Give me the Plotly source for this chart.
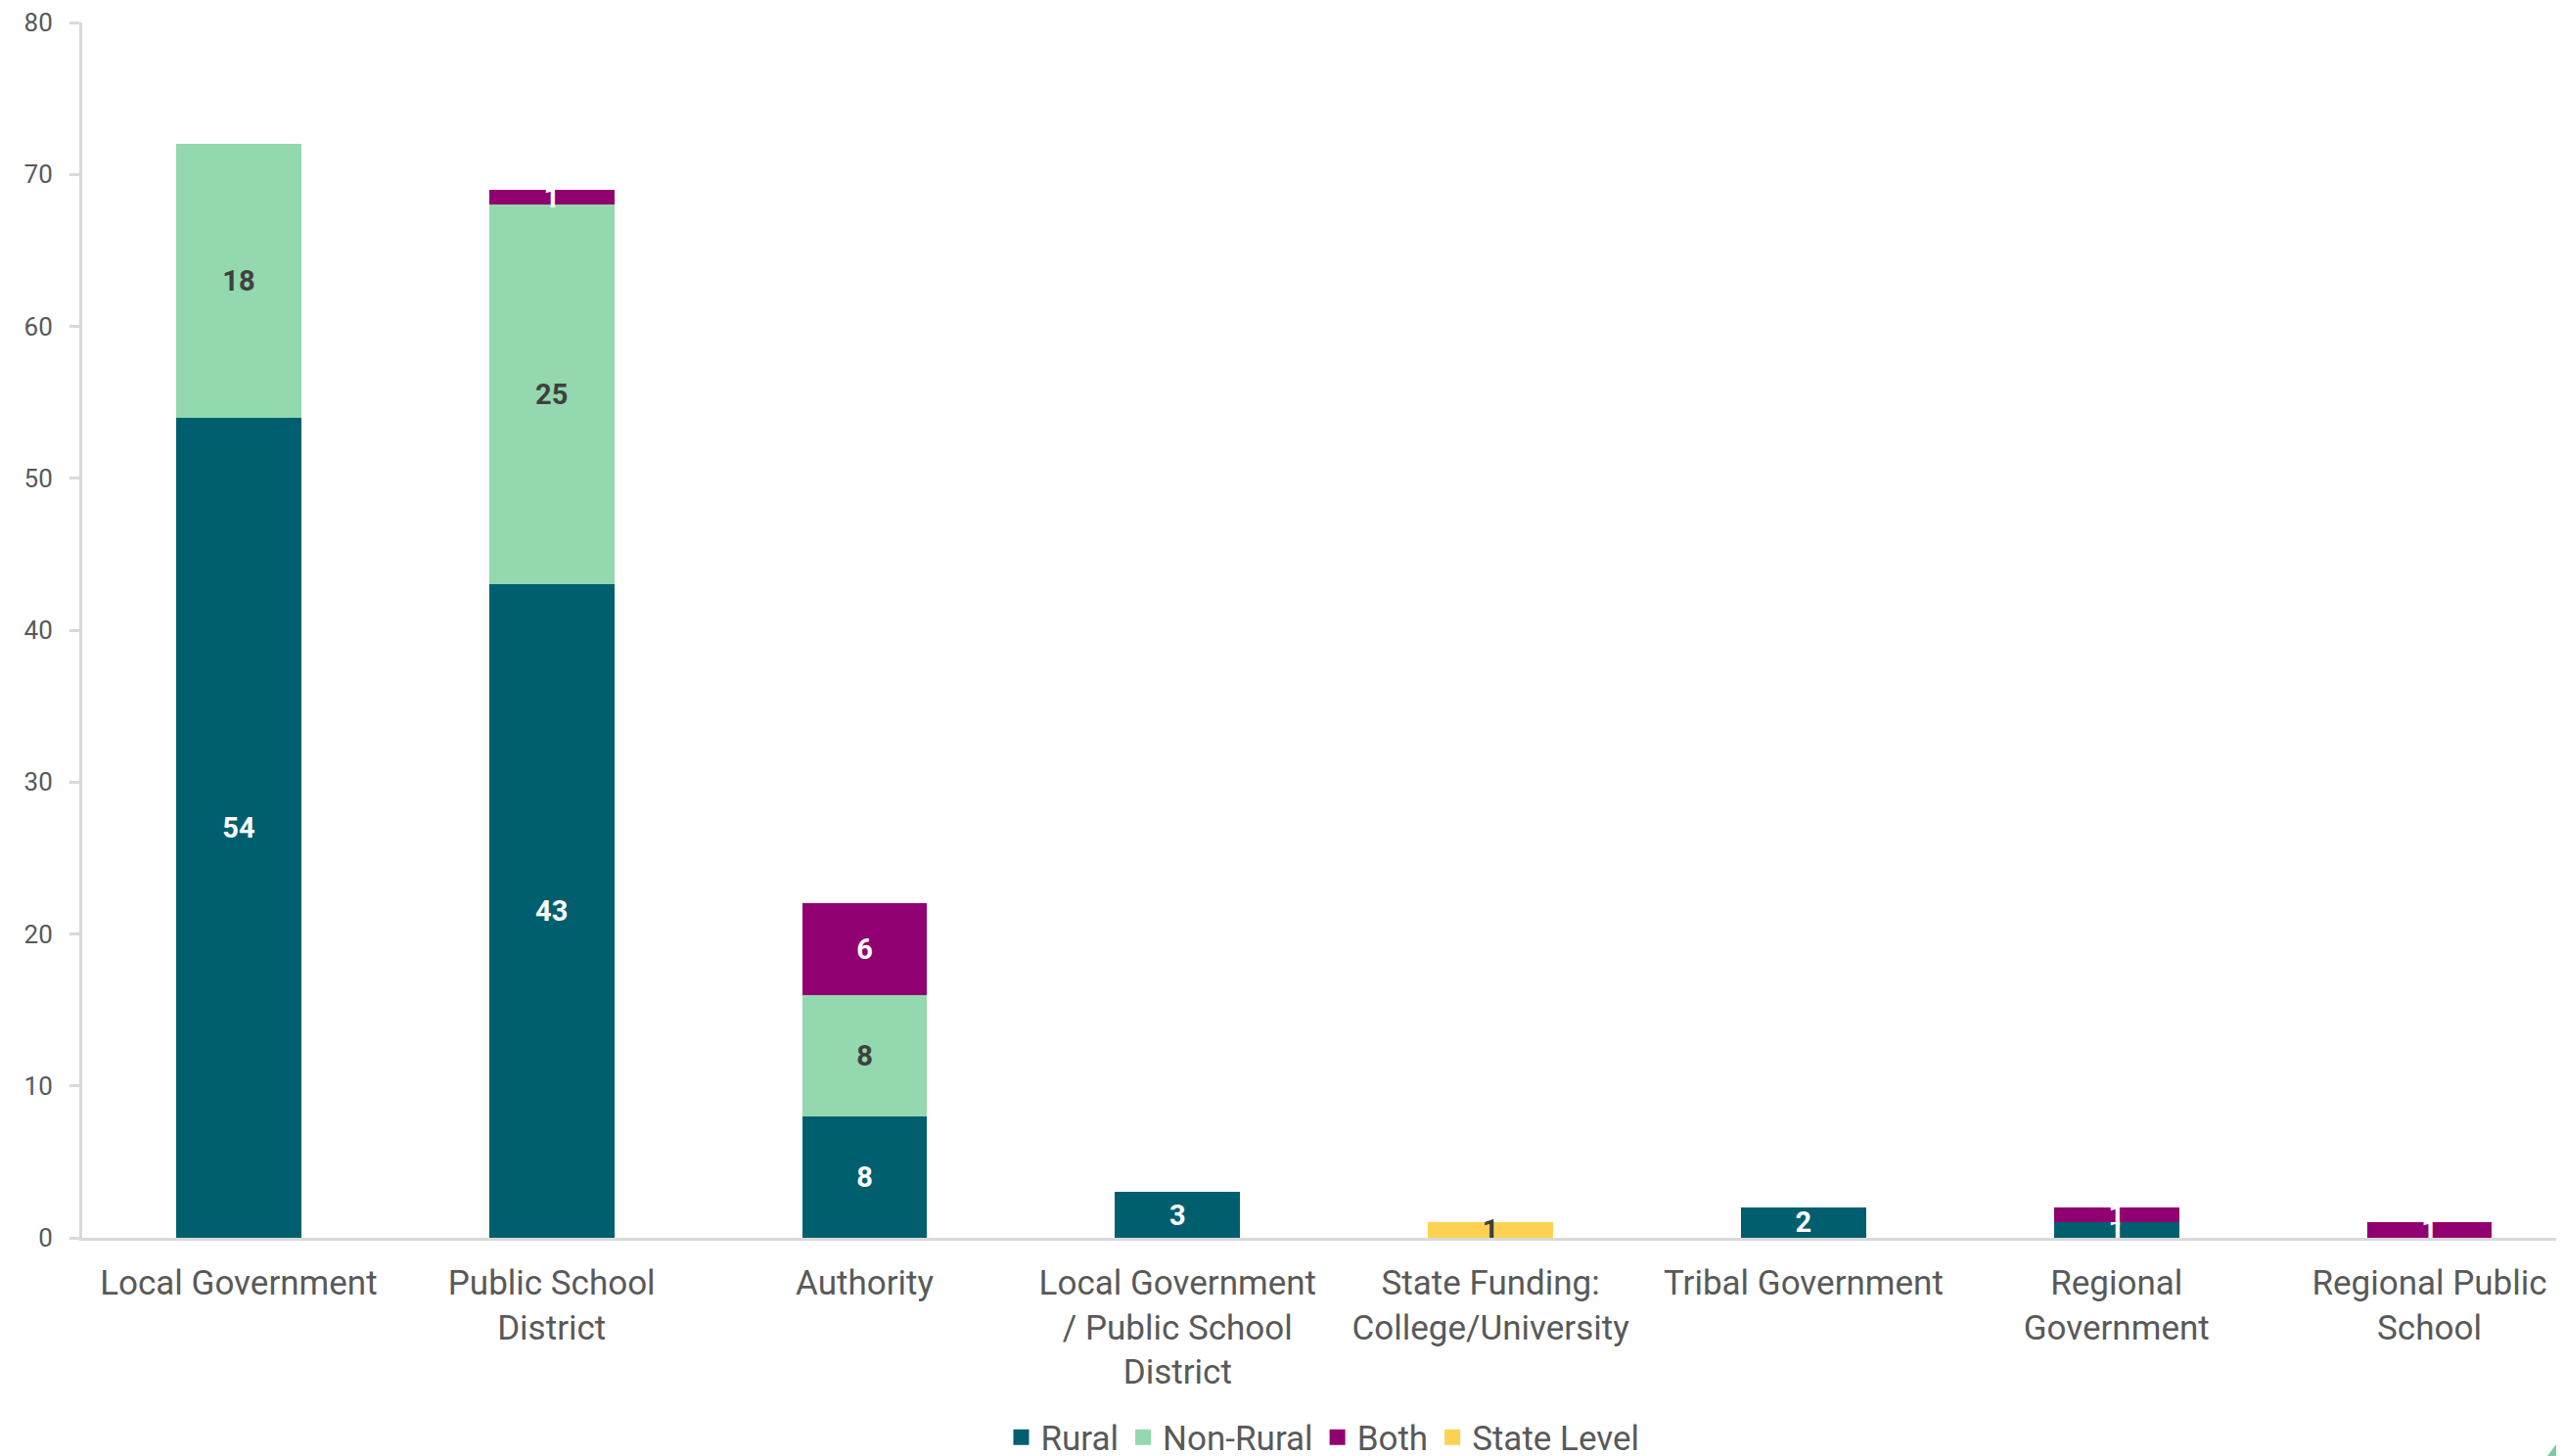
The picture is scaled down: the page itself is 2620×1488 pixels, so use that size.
import plotly.graph_objects as go

categories = [
    "Local Government",
    "Public School<br>District",
    "Authority",
    "Local Government<br>/ Public School<br>District",
    "State Funding:<br>College/University",
    "Tribal Government",
    "Regional<br>Government",
    "Regional Public<br>School",
]
rural = [54, 43, 8, 3, None, 2, 1, None]
non_rural = [18, 25, 8, None, None, None, None, None]
both = [None, 1, 6, None, None, None, 1, 1]
state_level = [None, None, None, None, 1, None, None, None]
y_ticks = [0, 10, 20, 30, 40, 50, 60, 70, 80]

series = [
    ("Rural", rural, "#005F6E", "white"),
    ("Non-Rural", non_rural, "#93D8AE", "#404040"),
    ("Both", both, "#910070", "white"),
    ("State Level", state_level, "#FDD253", "#404040"),
]

fig = go.Figure()
for name, vals, color, tcolor in series:
    fig.add_trace(go.Bar(
        name=name,
        x=categories,
        y=vals,
        showlegend=False,
        legendgroup=name,
        marker=dict(color=color, line=dict(width=0)),
        text=[("" if v is None else str(v)) for v in vals],
        textposition="inside",
        insidetextanchor="middle",
        constraintext="none",
        textangle=0,
        textfont=dict(family="Roboto", size=29, color=tcolor, weight="bold"),
        cliponaxis=False,
    ))
# legend entries (square swatches)
for name, vals, color, tcolor in series:
    fig.add_trace(go.Scatter(
        name=name, x=[None], y=[None], mode="markers",
        legendgroup=name,
        marker=dict(symbol="square", size=16, color=color),
        showlegend=True,
    ))

# page has an 8px body margin: figure is drawn 8px in from top-left
W, H = 2612, 1480
ml, mr, mt, mb = 76, 0, 15, 223
pw, ph = W - ml - mr, H - mt - mb

def px(xp):
    return (xp - ml) / pw
def py(yp):
    return (H - mb - yp) / ph

fig.add_shape(
    type="path", xref="paper", yref="paper",
    path=f"M {px(2592)} {py(1484)} L {px(2616)} {py(1452)} L {px(2616)} {py(1484)} Z",
    fillcolor="#7DC9A3", line=dict(width=0), layer="above",
)

fig.update_layout(
    width=W, height=H,
    margin=dict(l=ml, r=mr, t=mt, b=mb, autoexpand=False),
    barmode="stack",
    bargap=0.6,
    plot_bgcolor="white",
    paper_bgcolor="white",
    font=dict(family="Roboto", color="#595959"),
    showlegend=True,
    legend=dict(
        orientation="h",
        x=0.5, xanchor="center",
        y=-0.1405, yanchor="top",
        font=dict(family="Roboto", size=35, color="#595959"),
        itemwidth=30,
        traceorder="normal",
    ),
    xaxis=dict(
        range=[-0.5, 7.43],
        automargin=False,
        showline=True, linecolor="#D9D9D9", linewidth=3,
        ticks="", showgrid=False,
        tickfont=dict(family="Roboto", size=35, color="#595959"),
        ticklabelstandoff=13,
        zeroline=False,
    ),
    yaxis=dict(
        range=[0, 80],
        automargin=False,
        tickvals=y_ticks,
        showline=True, linecolor="#D9D9D9", linewidth=3,
        ticks="outside", ticklen=10, tickcolor="#D9D9D9", tickwidth=3,
        showgrid=False, zeroline=False,
        tickfont=dict(family="Roboto", size=26, color="#595959"),
        ticklabelstandoff=12,
        ticklabeloverflow="allow",
    ),
)

fig.write_html("out.html")
